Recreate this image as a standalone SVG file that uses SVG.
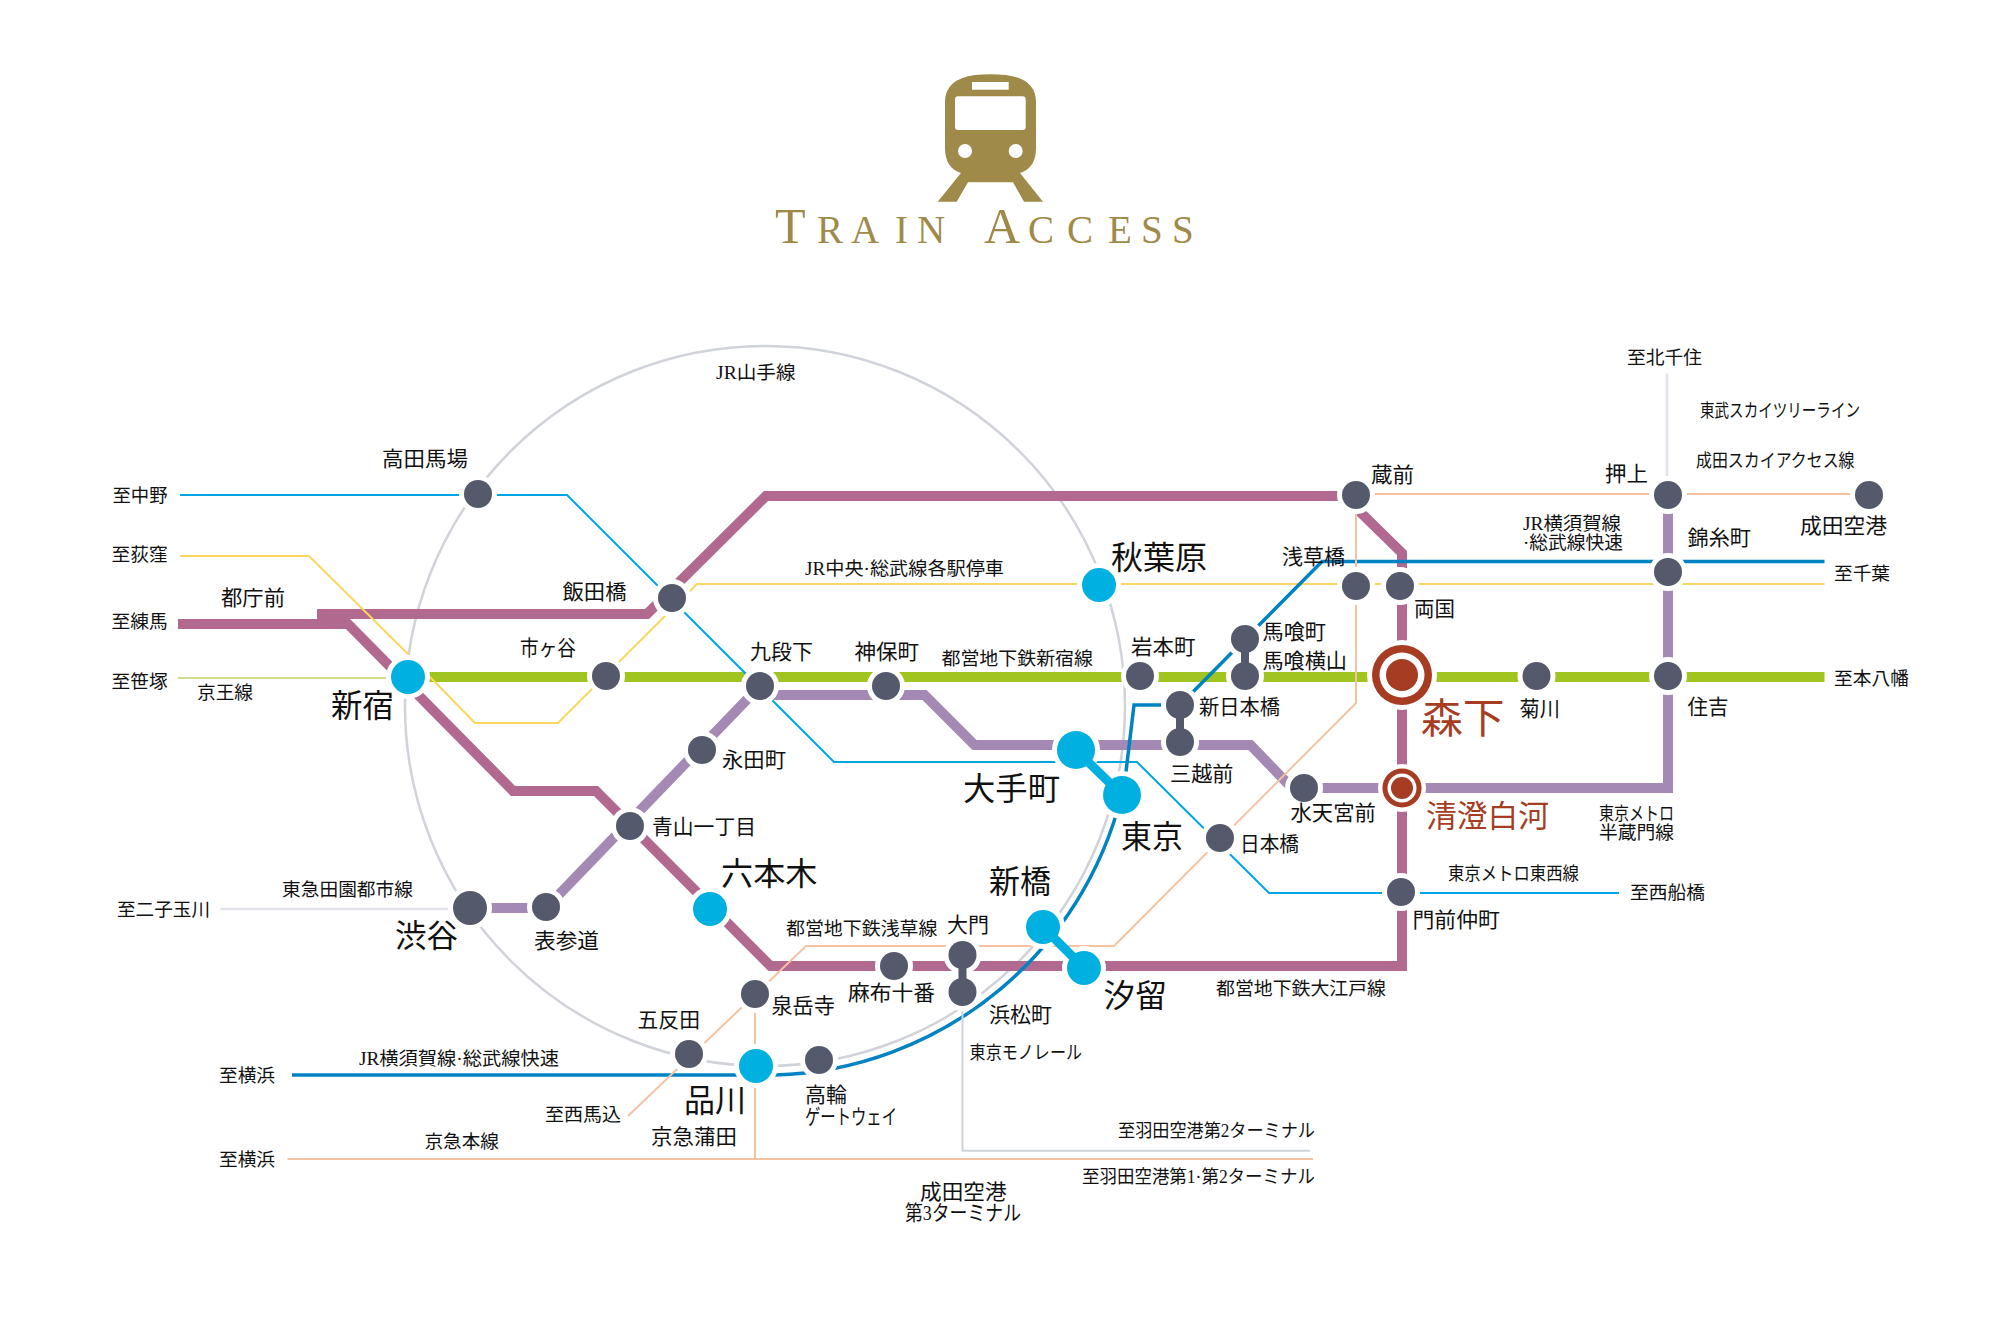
<svg xmlns="http://www.w3.org/2000/svg" width="1991" height="1323" viewBox="0 0 1991 1323">
<style>
text{font-family:"Liberation Serif","Noto Sans CJK JP",serif;fill:#111}
.s{font-size:18.7px}.m{font-size:21px}.l{font-size:31.5px}
.r{fill:#a63d23}
.ln{fill:none;stroke-linejoin:miter}
.oedo{stroke:#b2698f;stroke-width:10}
.hanzo{stroke:#a389b3;stroke-width:10}
.shinjuku{stroke:#a0c520;stroke-width:10}
.thin{stroke-width:2}
.tozai{stroke:#00a5e3}
.yellow{stroke:#fbd75f}
.rapid{stroke:#0082c3;stroke-width:3.500}
.peach{stroke:#f5c3a1}
.gray{stroke:#d0d3d9}
.ring{stroke:#d0d3d9;stroke-width:2.500}
.pale{stroke:#d3dc8a}
.mist{stroke:#e2e0e8;stroke-width:2.500}
.d{fill:#545a6b;stroke:#fff;stroke-width:10;paint-order:stroke}
.c{fill:#00b0e0;stroke:#fff;stroke-width:10;paint-order:stroke}
.link-d{stroke:#545a6b;stroke-width:8;fill:none}
.link-c{stroke:#00b0e0;stroke-width:9;fill:none}
.gold{fill:#9f8a4a}
</style>

<g id="logo">
<path class="gold" d="M945 102Q945 79 975 75Q990 73.500 1006 75Q1036 79 1036 102V148Q1036 168 1020 173L1043 201.700H1024L1013 182.300H968L956.700 201.700H937.700L961 173Q945 168 945 148Z"/>
<rect x="972" y="82" width="36.700" height="7.700" fill="#fff"/>
<rect x="955" y="96.300" width="70.700" height="33.700" rx="3" fill="#fff"/>
<circle cx="965" cy="151" r="7" fill="#fff"/>
<circle cx="1015.700" cy="151" r="7" fill="#fff"/>
<text class="gold" y="243" x="775 817 851 895 917 963 984 1028 1067 1108 1141 1172" style="fill:#9f8a4a"><tspan font-size="50">T</tspan><tspan font-size="39">RAIN </tspan><tspan font-size="50">A</tspan><tspan font-size="39">CCESS</tspan></text>
</g>

<g id="connectors">
<circle class="ln ring" cx="765" cy="706" r="360"/>
<path class="ln oedo" d="M178 624H348L513 791H596L770.500 966H1402V553L1358 510"/>
<path class="ln oedo" d="M317 614H647L766 496H1356"/>
<path class="ln hanzo" d="M470 908H546L760 686"/>
<path class="ln hanzo" d="M760 695H924.500L974.500 745H1250.500L1292 788H1668V495"/>
<path class="ln shinjuku" d="M408 677H1824.500"/>
<path class="ln thin pale" d="M178 678H408"/>
<path class="ln thin tozai" d="M180 495H567L834 762H1137L1269 893H1619"/>
<path class="ln thin yellow" d="M180 556H309L408 654"/>
<path class="ln thin yellow" d="M430 677L475 723H558L697 584H1824.500"/>
<path class="ln rapid" d="M1824.500 561.500H1322L1180 705H1134L1125 780A369 369 0 0 1 775 1075H292"/>
<path class="ln thin peach" d="M1869 494H1356V703L1114 946H806L628 1116"/>
<path class="ln thin peach" d="M755 994V1159"/>
<path class="ln thin peach" d="M287.500 1159H1313"/>
<path class="ln thin gray" d="M962.500 992V1150.700H1310"/>
<path class="ln mist" d="M220.500 909H470"/>
<path class="ln mist" d="M1667 373.600V495"/>
</g>

<g id="stations">
<g id="st-takadanobaba"><circle class="d" cx="478" cy="494" r="14"/><text class="m" x="382" y="465.500" textLength="86" lengthAdjust="spacingAndGlyphs">高田馬場</text></g>
<g id="st-tochomae"><text class="m" x="221" y="604.500" textLength="64" lengthAdjust="spacingAndGlyphs">都庁前</text></g>
<g id="st-shinjuku"><circle class="c" cx="408" cy="677" r="17"/><text class="l" x="331" y="717" textLength="63" lengthAdjust="spacingAndGlyphs">新宿</text></g>
<g id="st-iidabashi"><circle class="d" cx="672" cy="598" r="14"/><text class="m" x="562.500" y="598.500" textLength="64" lengthAdjust="spacingAndGlyphs">飯田橋</text></g>
<g id="st-ichigaya"><circle class="d" cx="606" cy="676" r="14"/><text class="m" x="520" y="654.500" textLength="56" lengthAdjust="spacingAndGlyphs">市ヶ谷</text></g>
<g id="st-akihabara"><circle class="c" cx="1099" cy="585" r="17"/><text class="l" x="1111" y="568.500" textLength="96" lengthAdjust="spacingAndGlyphs">秋葉原</text></g>
<g id="st-asakusabashi"><circle class="d" cx="1356" cy="586" r="14"/><text class="m" x="1282" y="563.500" textLength="63" lengthAdjust="spacingAndGlyphs">浅草橋</text></g>
<g id="st-kudanshita"><circle class="d" cx="760" cy="686" r="14"/><text class="m" x="750" y="658.500" textLength="63" lengthAdjust="spacingAndGlyphs">九段下</text></g>
<g id="st-jimbocho"><circle class="d" cx="886" cy="686" r="14"/><text class="m" x="854.500" y="658.500" textLength="64.500" lengthAdjust="spacingAndGlyphs">神保町</text></g>
<g id="st-iwamotocho"><circle class="d" cx="1140" cy="676" r="14"/><text class="m" x="1131" y="653.500" textLength="64.500" lengthAdjust="spacingAndGlyphs">岩本町</text></g>
<g id="st-bakurocho"><circle class="d" cx="1245" cy="639" r="14"/><text class="m" x="1262.500" y="638.500" textLength="63.500" lengthAdjust="spacingAndGlyphs">馬喰町</text></g>
<g id="st-bakuroyokoyama"><circle class="d" cx="1245" cy="676" r="14"/><text class="m" x="1262.500" y="667.500" textLength="84.500" lengthAdjust="spacingAndGlyphs">馬喰横山</text></g>
<g id="st-shinnihombashi"><circle class="d" cx="1180" cy="705" r="14"/><text class="m" x="1199" y="713.500" textLength="81" lengthAdjust="spacingAndGlyphs">新日本橋</text></g>
<g id="st-mitsukoshimae"><circle class="d" cx="1180" cy="742" r="14"/><text class="m" x="1170" y="780.500" textLength="63.500" lengthAdjust="spacingAndGlyphs">三越前</text></g>
<g id="st-nagatacho"><circle class="d" cx="702" cy="750" r="14"/><text class="m" x="722" y="766.500" textLength="64" lengthAdjust="spacingAndGlyphs">永田町</text></g>
<g id="st-otemachi"><circle class="c" cx="1076" cy="750" r="19"/><text class="l" x="963" y="800" textLength="97" lengthAdjust="spacingAndGlyphs">大手町</text></g>
<g id="st-tokyo"><circle class="c" cx="1122" cy="795" r="19"/><text class="l" x="1121" y="848" textLength="62" lengthAdjust="spacingAndGlyphs">東京</text></g>
<g id="st-suitengumae"><circle class="d" cx="1304" cy="788" r="14"/><text class="m" x="1290.500" y="819.500" textLength="85.500" lengthAdjust="spacingAndGlyphs">水天宮前</text></g>
<g id="st-kuramae"><circle class="d" cx="1356" cy="495" r="14"/><text class="m" x="1371" y="481.500" textLength="43" lengthAdjust="spacingAndGlyphs">蔵前</text></g>
<g id="st-oshiage"><circle class="d" cx="1668" cy="495" r="14"/><text class="m" x="1605" y="480.500" textLength="43" lengthAdjust="spacingAndGlyphs">押上</text></g>
<g id="st-narita"><circle class="d" cx="1869" cy="495" r="14"/><text class="m" x="1800" y="533" textLength="87" lengthAdjust="spacingAndGlyphs">成田空港</text></g>
<g id="st-kinshicho"><circle class="d" cx="1668" cy="572" r="14"/><text class="m" x="1687.500" y="544.500" textLength="63.500" lengthAdjust="spacingAndGlyphs">錦糸町</text></g>
<g id="st-ryogoku"><circle class="d" cx="1400" cy="586" r="14"/><text class="m" x="1414" y="615.500" textLength="41" lengthAdjust="spacingAndGlyphs">両国</text></g>
<g id="st-morishita"><circle cx="1402" cy="675" r="35" fill="#fff"/><circle cx="1402" cy="675" r="30" fill="#a63d23"/><circle cx="1402" cy="675" r="22.500" fill="#fff"/><circle cx="1402" cy="675" r="16" fill="#a63d23"/><text class="r" font-size="41" x="1421" y="733" textLength="83.500" lengthAdjust="spacingAndGlyphs">森下</text></g>
<g id="st-kikukawa"><circle class="d" cx="1536.500" cy="676" r="14"/><text class="m" x="1519.600" y="715.500" textLength="40.500" lengthAdjust="spacingAndGlyphs">菊川</text></g>
<g id="st-sumiyoshi"><circle class="d" cx="1668" cy="676" r="14"/><text class="m" x="1687.500" y="714" textLength="41" lengthAdjust="spacingAndGlyphs">住吉</text></g>
<g id="st-kiyosumi"><circle cx="1402" cy="788" r="24" fill="#fff"/><circle cx="1402" cy="788" r="19.600" fill="#a63d23"/><circle cx="1402" cy="788" r="14.500" fill="#fff"/><circle cx="1402" cy="788" r="11" fill="#a63d23"/><text class="r" font-size="31" x="1426" y="827" textLength="123" lengthAdjust="spacingAndGlyphs">清澄白河</text></g>
<g id="st-monzen"><circle class="d" cx="1401" cy="892" r="14"/><text class="m" x="1412.500" y="926.500" textLength="87.500" lengthAdjust="spacingAndGlyphs">門前仲町</text></g>
<g id="st-aoyama"><circle class="d" cx="630" cy="826" r="14"/><text class="m" x="652" y="833.500" textLength="104" lengthAdjust="spacingAndGlyphs">青山一丁目</text></g>
<g id="st-roppongi"><circle class="c" cx="710" cy="909" r="17"/><text class="l" x="721" y="885" textLength="96.500" lengthAdjust="spacingAndGlyphs">六本木</text></g>
<g id="st-shibuya"><circle class="d" cx="470" cy="908" r="17"/><text class="l" x="395" y="947" textLength="63" lengthAdjust="spacingAndGlyphs">渋谷</text></g>
<g id="st-omotesando"><circle class="d" cx="546" cy="907" r="14"/><text class="m" x="534" y="947.500" textLength="65" lengthAdjust="spacingAndGlyphs">表参道</text></g>
<g id="st-gotanda"><circle class="d" cx="689" cy="1054" r="14"/><text class="m" x="637.500" y="1026.500" textLength="62.500" lengthAdjust="spacingAndGlyphs">五反田</text></g>
<g id="st-sengakuji"><circle class="d" cx="755" cy="994" r="14"/><text class="m" x="771.400" y="1012.500" textLength="63.600" lengthAdjust="spacingAndGlyphs">泉岳寺</text></g>
<g id="st-shinagawa"><circle class="c" cx="756" cy="1066" r="17"/><text class="l" x="684" y="1112" textLength="62" lengthAdjust="spacingAndGlyphs">品川</text></g>
<g id="st-takanawa"><circle class="d" cx="819" cy="1060" r="14"/><text class="m" x="805" y="1101.500" textLength="42" lengthAdjust="spacingAndGlyphs">高輪</text><text class="m" x="805" y="1123.500" textLength="92" lengthAdjust="spacingAndGlyphs">ゲートウェイ</text></g>
<g id="st-keikyukamata"><text class="m" x="651" y="1143.500" textLength="86" lengthAdjust="spacingAndGlyphs">京急蒲田</text></g>
<g id="st-azabujuban"><circle class="d" cx="894" cy="966" r="14"/><text class="m" x="848" y="999.500" textLength="87" lengthAdjust="spacingAndGlyphs">麻布十番</text></g>
<g id="st-daimon"><circle class="d" cx="962.500" cy="955" r="14"/><text class="m" x="947" y="931.500" textLength="42" lengthAdjust="spacingAndGlyphs">大門</text></g>
<g id="st-hamamatsucho"><circle class="d" cx="962.500" cy="992" r="14"/><text class="m" x="989" y="1021.500" textLength="63" lengthAdjust="spacingAndGlyphs">浜松町</text></g>
<g id="st-shimbashi"><circle class="c" cx="1043" cy="927" r="17"/><text class="l" x="989" y="893" textLength="62" lengthAdjust="spacingAndGlyphs">新橋</text></g>
<g id="st-shiodome"><circle class="c" cx="1084" cy="968" r="17"/><text class="l" x="1103.600" y="1007" textLength="63.400" lengthAdjust="spacingAndGlyphs">汐留</text></g>
<g id="st-nihombashi"><circle class="d" cx="1220" cy="838" r="14"/><text class="m" x="1240" y="850.500" textLength="59" lengthAdjust="spacingAndGlyphs">日本橋</text></g>
<g id="st-narita-t3"><text class="m" x="920" y="1198.500" textLength="86.600" lengthAdjust="spacingAndGlyphs">成田空港</text><text class="m" x="905" y="1219.500" textLength="116" lengthAdjust="spacingAndGlyphs">第3ターミナル</text></g>
</g>

<g id="transfer-links">
<path class="link-d" d="M1245 639V676M1180 705V742M962.500 955V992"/>
<path class="link-c" d="M1076 750L1122 795M1043 927L1084 968"/>
</g>

<g id="labels" class="s">
<text x="112.500" y="502" textLength="55" lengthAdjust="spacingAndGlyphs">至中野</text>
<text x="111.600" y="561" textLength="56" lengthAdjust="spacingAndGlyphs">至荻窪</text>
<text x="111.600" y="628" textLength="56" lengthAdjust="spacingAndGlyphs">至練馬</text>
<text x="111.600" y="688" textLength="56" lengthAdjust="spacingAndGlyphs">至笹塚</text>
<text x="197" y="699" textLength="56" lengthAdjust="spacingAndGlyphs">京王線</text>
<text x="716" y="379" textLength="79.500" lengthAdjust="spacingAndGlyphs">JR山手線</text>
<text x="805" y="575" textLength="199" lengthAdjust="spacingAndGlyphs">JR中央·総武線各駅停車</text>
<text x="941.500" y="665" textLength="151.500" lengthAdjust="spacingAndGlyphs">都営地下鉄新宿線</text>
<text x="1627" y="364" textLength="75" lengthAdjust="spacingAndGlyphs">至北千住</text>
<text x="1700" y="417" textLength="160" lengthAdjust="spacingAndGlyphs">東武スカイツリーライン</text>
<text x="1696" y="467" textLength="158.500" lengthAdjust="spacingAndGlyphs">成田スカイアクセス線</text>
<text x="1523" y="530" textLength="98" lengthAdjust="spacingAndGlyphs">JR横須賀線</text>
<text x="1523" y="549" textLength="100" lengthAdjust="spacingAndGlyphs">·総武線快速</text>
<text x="1834" y="580" textLength="56" lengthAdjust="spacingAndGlyphs">至千葉</text>
<text x="1834" y="685" textLength="75" lengthAdjust="spacingAndGlyphs">至本八幡</text>
<text x="1599" y="820" textLength="75" lengthAdjust="spacingAndGlyphs">東京メトロ</text>
<text x="1599" y="839" textLength="75" lengthAdjust="spacingAndGlyphs">半蔵門線</text>
<text x="1448" y="880" textLength="131" lengthAdjust="spacingAndGlyphs">東京メトロ東西線</text>
<text x="1630" y="899" textLength="75" lengthAdjust="spacingAndGlyphs">至西船橋</text>
<text x="786" y="935" textLength="151.500" lengthAdjust="spacingAndGlyphs">都営地下鉄浅草線</text>
<text x="282" y="896" textLength="131" lengthAdjust="spacingAndGlyphs">東急田園都市線</text>
<text x="117" y="916" textLength="93" lengthAdjust="spacingAndGlyphs">至二子玉川</text>
<text x="359" y="1065" textLength="200" lengthAdjust="spacingAndGlyphs">JR横須賀線·総武線快速</text>
<text x="219" y="1082" textLength="56" lengthAdjust="spacingAndGlyphs">至横浜</text>
<text x="545" y="1121" textLength="76" lengthAdjust="spacingAndGlyphs">至西馬込</text>
<text x="424.500" y="1148" textLength="74.500" lengthAdjust="spacingAndGlyphs">京急本線</text>
<text x="219" y="1166" textLength="56" lengthAdjust="spacingAndGlyphs">至横浜</text>
<text x="1216" y="995" textLength="170" lengthAdjust="spacingAndGlyphs">都営地下鉄大江戸線</text>
<text x="969.600" y="1059" textLength="112.400" lengthAdjust="spacingAndGlyphs">東京モノレール</text>
<text x="1118" y="1137" textLength="197" lengthAdjust="spacingAndGlyphs">至羽田空港第2ターミナル</text>
<text x="1082" y="1183" textLength="233" lengthAdjust="spacingAndGlyphs">至羽田空港第1·第2ターミナル</text>
</g>
</svg>
